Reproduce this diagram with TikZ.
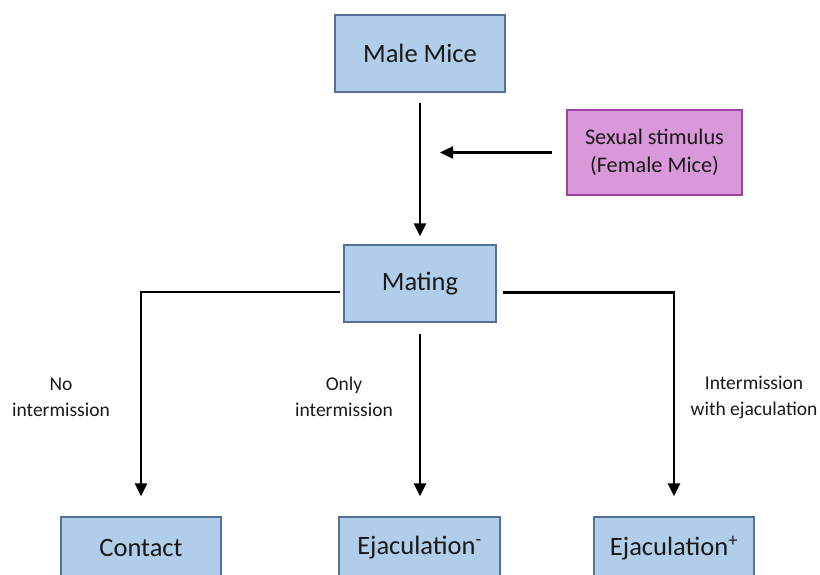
\documentclass[tikz,border=0pt]{standalone}
\usepackage{fontspec}
\setmainfont{Carlito}
\usetikzlibrary{arrows.meta}
\definecolor{boxblue}{RGB}{176,205,234}
\definecolor{boxblueedge}{RGB}{84,112,150}
\definecolor{boxpink}{RGB}{217,152,217}
\definecolor{boxpinkedge}{RGB}{158,64,160}
\definecolor{txt}{RGB}{25,25,25}
\tikzset{
  bluebox/.style={draw=boxblueedge, fill=boxblue, line width=1.3pt, text=txt,
    font=\fontsize{26.5}{30}\selectfont, inner sep=0pt},
  pinkbox/.style={draw=boxpinkedge, fill=boxpink, line width=1.3pt, text=txt,
    font=\fontsize{22.3}{28}\selectfont, align=center, inner sep=0pt},
  lbl/.style={text=txt, font=\fontsize{19.5}{26}\selectfont, align=center},
  arr/.style={line width=2.4pt, -{Triangle[length=13pt,width=12pt]}},
}
\begin{document}
\begin{tikzpicture}[x=1pt,y=-1pt]
\useasboundingbox (0,0) rectangle (820,575);
\fill[white] (0,0) rectangle (820,575);

% boxes
\node[bluebox, minimum width=170pt, minimum height=77pt] (male) at (420,53.5) {Male Mice};
\node[pinkbox, minimum width=175pt, minimum height=85pt] (stim) at (654.5,152.5) {Sexual stimulus\\(Female Mice)};
\node[bluebox, minimum width=152pt, minimum height=77pt] (mating) at (420,283.5) {Mating};
\node[bluebox, minimum width=160pt, minimum height=62pt] (contact) at (141,548) {Contact};
\node[bluebox, minimum width=161pt, minimum height=62pt] (ejm) at (419.5,548) {Ejaculation\textsuperscript{-}};
\node[bluebox, minimum width=160pt, minimum height=62pt] (ejp) at (674,548) {Ejaculation\textsuperscript{+}};

% free end of the stimulus arrow
\coordinate (stimtip) at (440,152.5);

% connectors
\draw[arr, shorten <=10pt, shorten >=8pt] (male) -- (mating);
\draw[arr, shorten <=14pt] (stim.west) -- (stimtip);
\draw[arr, shorten >=20pt] ([xshift=-3pt,yshift=-8.5pt]mating.west) -| (contact.north);
\draw[arr, shorten <=11pt, shorten >=20pt] (mating.south) -- (mating.south |- ejm.north);
\draw[arr, shorten >=20pt] ([xshift=6pt,yshift=-9pt]mating.east) -| (ejp.north);

% branch labels
\node[lbl] (l1) at (61,397) {No\\intermission};
\node[lbl] (l2) at (344,397) {Only\\intermission};
\node[lbl] (l3) at (754,397) {Intermission\\with ejaculation};
\end{tikzpicture}
\end{document}
